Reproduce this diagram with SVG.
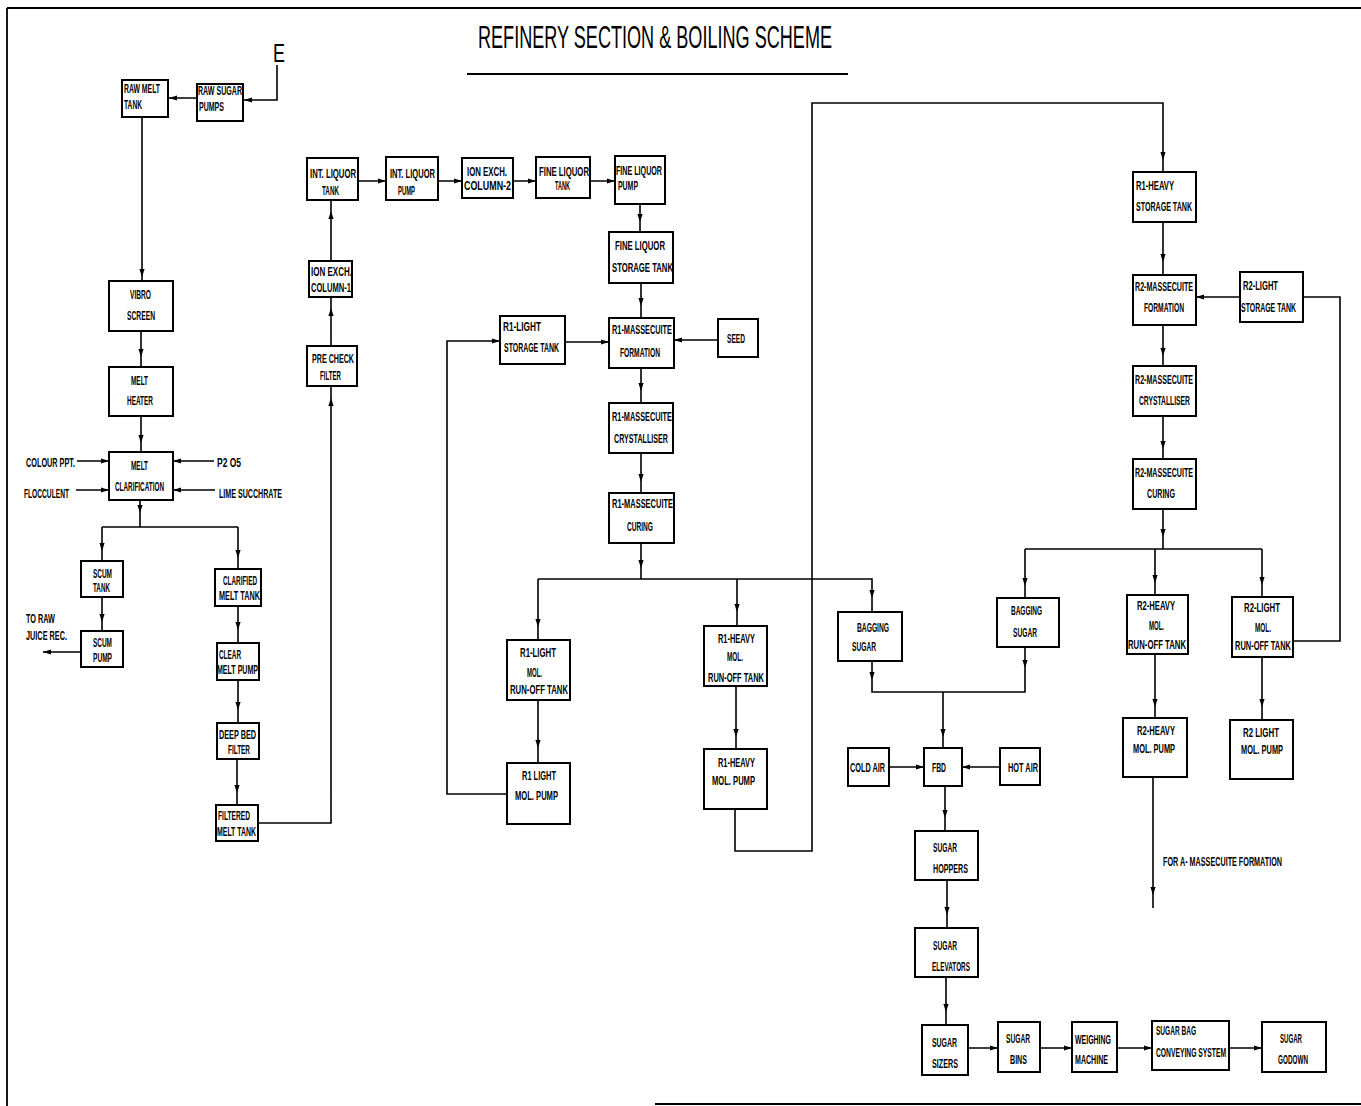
<svg xmlns="http://www.w3.org/2000/svg" xmlns:xlink="http://www.w3.org/1999/xlink" width="1361" height="1106" viewBox="0 0 1361 1106">
<style>
.b{fill:#fff;stroke:#000;stroke-width:2}
.t{font-family:"Liberation Sans",Arial,sans-serif;font-size:12.5px;font-weight:bold;fill:#000}
.c{fill:none;stroke:#000;stroke-width:1.6}
.f{stroke:#000;stroke-width:1.8}
</style>
<defs>
<path id="ad" d="M0,0 L-2.6,-8 L2.6,-8 Z" fill="#000"/>
<path id="au" d="M0,0 L-2.6,8 L2.6,8 Z" fill="#000"/>
<path id="ar" d="M0,0 L-8,-2.6 L-8,2.6 Z" fill="#000"/>
<path id="al" d="M0,0 L8,-2.6 L8,2.6 Z" fill="#000"/>
</defs>
<rect width="1361" height="1106" fill="#fff"/>
<g id="frame">
<path class="f" d="M7,8 H1361 M7,8 V1106 M655,1104 H1361 M467,74 H848" fill="none"/>
<text x="478" y="48" textLength="354" lengthAdjust="spacingAndGlyphs" style="font-family:'Liberation Sans',Arial,sans-serif;font-size:32px;fill:#000">REFINERY SECTION &amp; BOILING SCHEME</text>
<text x="273" y="62" style="font-family:'Liberation Sans',Arial,sans-serif;font-size:26px;fill:#000" textLength="12" lengthAdjust="spacingAndGlyphs">E</text>
</g>
<g id="connectors">
<path class="c" d="M277,65 V100 H244 M197,98 H168 M142,117 V281 M141,331 V367 M141,416 V452 M77,461 H109 M76,490 H109 M214,461 H173 M215,490 H173 M140,500 V527 M102,527 H238 M102,527 V561 M238,527 V569 M102,597 V631 M81,652 H43 M238,606 V643 M238,680 V723 M237,759 V805 M258,823 H331 V386 M331,346 V297 M331,261 V200 M358,181 H386 M438,181 H462 M513,181 H536 M590,181 H615 M640,204 V232 M641,283 V318 M565,342 H609 M718,340 H674 M641,368 V403 M641,453 V493 M641,543 V579 M538,579 H872 V612 M538,579 V640 M538,700 V763 M737,579 V626 M736,686 V749 M507,794 H447 V341 H500 M735,809 V851 H812 V103 H1163 V172 M1163,222 V275 M1240,297 H1196 M1303,297 H1340 V641 H1293 M1163,325 V366 M1163,416 V459 M1163,509 V549 M1025,549 H1262 M1025,549 V598 M1155,549 V595 M1262,549 V597 M1155,654 V718 M1262,657 V720 M1153,777 V908 M872,661 V692 H1025 V647 M943,692 V748 M889,767 H924 M1000,767 H962 M945,786 V831 M947,880 V928 M946,977 V1025 M968,1048 H998 M1040,1048 H1072 M1117,1048 H1152 M1229,1048 H1262"/>
<use xlink:href="#al" x="244" y="100"/>
<use xlink:href="#al" x="169" y="98"/>
<use xlink:href="#ad" x="142" y="277"/>
<use xlink:href="#ad" x="141" y="357"/>
<use xlink:href="#ad" x="141" y="443"/>
<use xlink:href="#ar" x="109" y="461"/>
<use xlink:href="#ar" x="109" y="490"/>
<use xlink:href="#al" x="173" y="461"/>
<use xlink:href="#al" x="173" y="490"/>
<use xlink:href="#ad" x="140" y="513"/>
<use xlink:href="#ad" x="102" y="551"/>
<use xlink:href="#ad" x="238" y="558"/>
<use xlink:href="#ad" x="102" y="622"/>
<use xlink:href="#al" x="43" y="652"/>
<use xlink:href="#ad" x="238" y="630"/>
<use xlink:href="#ad" x="238" y="710"/>
<use xlink:href="#ad" x="237" y="793"/>
<use xlink:href="#au" x="331" y="398"/>
<use xlink:href="#au" x="331" y="308"/>
<use xlink:href="#au" x="331" y="211"/>
<use xlink:href="#ar" x="386" y="181"/>
<use xlink:href="#ar" x="462" y="181"/>
<use xlink:href="#ar" x="536" y="181"/>
<use xlink:href="#ar" x="615" y="181"/>
<use xlink:href="#ad" x="640" y="222"/>
<use xlink:href="#ad" x="641" y="306"/>
<use xlink:href="#ar" x="609" y="342"/>
<use xlink:href="#al" x="674" y="340"/>
<use xlink:href="#ar" x="500" y="341"/>
<use xlink:href="#ad" x="641" y="391"/>
<use xlink:href="#ad" x="641" y="482"/>
<use xlink:href="#ad" x="641" y="568"/>
<use xlink:href="#ad" x="538" y="627"/>
<use xlink:href="#ad" x="538" y="748"/>
<use xlink:href="#ad" x="737" y="612"/>
<use xlink:href="#ad" x="736" y="737"/>
<use xlink:href="#ad" x="872" y="598"/>
<use xlink:href="#ad" x="1163" y="160"/>
<use xlink:href="#ad" x="1163" y="262"/>
<use xlink:href="#al" x="1196" y="297"/>
<use xlink:href="#ad" x="1163" y="356"/>
<use xlink:href="#ad" x="1163" y="449"/>
<use xlink:href="#ad" x="1163" y="537"/>
<use xlink:href="#ad" x="1025" y="586"/>
<use xlink:href="#ad" x="1155" y="583"/>
<use xlink:href="#ad" x="1262" y="585"/>
<use xlink:href="#ad" x="1155" y="707"/>
<use xlink:href="#ad" x="1262" y="707"/>
<use xlink:href="#ad" x="1153" y="895"/>
<use xlink:href="#ad" x="872" y="680"/>
<use xlink:href="#ad" x="1025" y="668"/>
<use xlink:href="#ad" x="943" y="737"/>
<use xlink:href="#ar" x="924" y="767"/>
<use xlink:href="#al" x="962" y="767"/>
<use xlink:href="#ad" x="945" y="818"/>
<use xlink:href="#ad" x="947" y="915"/>
<use xlink:href="#ad" x="946" y="1012"/>
<use xlink:href="#ar" x="998" y="1048"/>
<use xlink:href="#ar" x="1072" y="1048"/>
<use xlink:href="#ar" x="1152" y="1048"/>
<use xlink:href="#ar" x="1262" y="1048"/>
</g>
<g id="labels">
<text class="t" x="26" y="467" textLength="49" lengthAdjust="spacingAndGlyphs">COLOUR PPT.</text>
<text class="t" x="24" y="498" textLength="45" lengthAdjust="spacingAndGlyphs">FLOCCULENT</text>
<text class="t" x="217" y="467" textLength="24" lengthAdjust="spacingAndGlyphs">P2 O5</text>
<text class="t" x="219" y="498" textLength="63" lengthAdjust="spacingAndGlyphs">LIME SUCCHRATE</text>
<text class="t" x="26" y="623" textLength="29" lengthAdjust="spacingAndGlyphs">TO RAW</text>
<text class="t" x="26" y="640" textLength="41" lengthAdjust="spacingAndGlyphs">JUICE REC.</text>
<text class="t" x="1163" y="866" textLength="119" lengthAdjust="spacingAndGlyphs" style="font-size:12px">FOR A- MASSECUITE FORMATION</text>
</g>
<g id="raw-melt-tank"><rect class="b" x="122" y="80" width="46" height="37"/><text class="t" x="124" y="93" textLength="36" lengthAdjust="spacingAndGlyphs">RAW MELT</text><text class="t" x="124" y="109" textLength="18" lengthAdjust="spacingAndGlyphs">TANK</text></g>
<g id="raw-sugar-pumps"><rect class="b" x="197" y="84" width="46" height="37"/><text class="t" x="198" y="95" textLength="44" lengthAdjust="spacingAndGlyphs">RAW SUGAR</text><text class="t" x="199" y="111" textLength="25" lengthAdjust="spacingAndGlyphs">PUMPS</text></g>
<g id="vibro-screen"><rect class="b" x="109" y="281" width="64" height="50"/><text class="t" x="130" y="299" textLength="21" lengthAdjust="spacingAndGlyphs">VIBRO</text><text class="t" x="127" y="320" textLength="28" lengthAdjust="spacingAndGlyphs">SCREEN</text></g>
<g id="melt-heater"><rect class="b" x="109" y="367" width="64" height="49"/><text class="t" x="131" y="385" textLength="17" lengthAdjust="spacingAndGlyphs">MELT</text><text class="t" x="127" y="405" textLength="26" lengthAdjust="spacingAndGlyphs">HEATER</text></g>
<g id="melt-clarification"><rect class="b" x="109" y="452" width="64" height="48"/><text class="t" x="131" y="470" textLength="17" lengthAdjust="spacingAndGlyphs">MELT</text><text class="t" x="115" y="491" textLength="49" lengthAdjust="spacingAndGlyphs">CLARIFICATION</text></g>
<g id="scum-tank"><rect class="b" x="81" y="561" width="42" height="36"/><text class="t" x="93" y="578" textLength="19" lengthAdjust="spacingAndGlyphs">SCUM</text><text class="t" x="93" y="592" textLength="17" lengthAdjust="spacingAndGlyphs">TANK</text></g>
<g id="scum-pump"><rect class="b" x="81" y="631" width="42" height="36"/><text class="t" x="93" y="647" textLength="19" lengthAdjust="spacingAndGlyphs">SCUM</text><text class="t" x="93" y="662" textLength="19" lengthAdjust="spacingAndGlyphs">PUMP</text></g>
<g id="clarified-melt-tank"><rect class="b" x="215" y="569" width="46" height="37"/><text class="t" x="223" y="585" textLength="34" lengthAdjust="spacingAndGlyphs">CLARIFIED</text><text class="t" x="219" y="600" textLength="41" lengthAdjust="spacingAndGlyphs">MELT TANK</text></g>
<g id="clear-melt-pump"><rect class="b" x="217" y="643" width="42" height="37"/><text class="t" x="219" y="659" textLength="22" lengthAdjust="spacingAndGlyphs">CLEAR</text><text class="t" x="217" y="674" textLength="41" lengthAdjust="spacingAndGlyphs">MELT PUMP</text></g>
<g id="deep-bed-filter"><rect class="b" x="217" y="723" width="42" height="36"/><text class="t" x="219" y="739" textLength="37" lengthAdjust="spacingAndGlyphs">DEEP BED</text><text class="t" x="228" y="754" textLength="22" lengthAdjust="spacingAndGlyphs">FILTER</text></g>
<g id="filtered-melt-tank"><rect class="b" x="216" y="805" width="42" height="36"/><text class="t" x="218" y="820" textLength="32" lengthAdjust="spacingAndGlyphs">FILTERED</text><text class="t" x="217" y="836" textLength="39" lengthAdjust="spacingAndGlyphs">MELT TANK</text></g>
<g id="pre-check-filter"><rect class="b" x="307" y="346" width="50" height="40"/><text class="t" x="312" y="363" textLength="42" lengthAdjust="spacingAndGlyphs">PRE CHECK</text><text class="t" x="320" y="380" textLength="21" lengthAdjust="spacingAndGlyphs">FILTER</text></g>
<g id="ion-exch-column-1"><rect class="b" x="309" y="261" width="43" height="36"/><text class="t" x="311" y="276" textLength="41" lengthAdjust="spacingAndGlyphs">ION EXCH.</text><text class="t" x="311" y="292" textLength="40" lengthAdjust="spacingAndGlyphs">COLUMN-1</text></g>
<g id="int-liquor-tank"><rect class="b" x="307" y="158" width="51" height="42"/><text class="t" x="310" y="178" textLength="46" lengthAdjust="spacingAndGlyphs">INT. LIQUOR</text><text class="t" x="322" y="195" textLength="17" lengthAdjust="spacingAndGlyphs">TANK</text></g>
<g id="int-liquor-pump"><rect class="b" x="386" y="157" width="52" height="43"/><text class="t" x="390" y="178" textLength="45" lengthAdjust="spacingAndGlyphs">INT. LIQUOR</text><text class="t" x="398" y="195" textLength="17" lengthAdjust="spacingAndGlyphs">PUMP</text></g>
<g id="ion-exch-column-2"><rect class="b" x="462" y="158" width="51" height="40"/><text class="t" x="467" y="176" textLength="40" lengthAdjust="spacingAndGlyphs">ION EXCH.</text><text class="t" x="464" y="190" textLength="47" lengthAdjust="spacingAndGlyphs">COLUMN-2</text></g>
<g id="fine-liquor-tank"><rect class="b" x="536" y="157" width="54" height="41"/><text class="t" x="539" y="176" textLength="50" lengthAdjust="spacingAndGlyphs">FINE LIQUOR</text><text class="t" x="555" y="190" textLength="15" lengthAdjust="spacingAndGlyphs">TANK</text></g>
<g id="fine-liquor-pump"><rect class="b" x="615" y="156" width="50" height="48"/><text class="t" x="616" y="175" textLength="46" lengthAdjust="spacingAndGlyphs">FINE LIQUOR</text><text class="t" x="618" y="190" textLength="20" lengthAdjust="spacingAndGlyphs">PUMP</text></g>
<g id="fine-liquor-storage-tank"><rect class="b" x="609" y="232" width="64" height="51"/><text class="t" x="615" y="250" textLength="50" lengthAdjust="spacingAndGlyphs">FINE LIQUOR</text><text class="t" x="612" y="272" textLength="61" lengthAdjust="spacingAndGlyphs">STORAGE TANK</text></g>
<g id="r1-light-storage-tank"><rect class="b" x="500" y="316" width="65" height="48"/><text class="t" x="503" y="331" textLength="38" lengthAdjust="spacingAndGlyphs">R1-LIGHT</text><text class="t" x="504" y="352" textLength="55" lengthAdjust="spacingAndGlyphs">STORAGE TANK</text></g>
<g id="seed"><rect class="b" x="718" y="319" width="40" height="38"/><text class="t" x="727" y="343" textLength="18" lengthAdjust="spacingAndGlyphs">SEED</text></g>
<g id="r1-massecuite-formation"><rect class="b" x="609" y="318" width="65" height="50"/><text class="t" x="612" y="334" textLength="60" lengthAdjust="spacingAndGlyphs">R1-MASSECUITE</text><text class="t" x="620" y="357" textLength="40" lengthAdjust="spacingAndGlyphs">FORMATION</text></g>
<g id="r1-massecuite-crystalliser"><rect class="b" x="609" y="403" width="64" height="50"/><text class="t" x="612" y="421" textLength="60" lengthAdjust="spacingAndGlyphs">R1-MASSECUITE</text><text class="t" x="614" y="443" textLength="54" lengthAdjust="spacingAndGlyphs">CRYSTALLISER</text></g>
<g id="r1-massecuite-curing"><rect class="b" x="609" y="493" width="65" height="50"/><text class="t" x="612" y="508" textLength="61" lengthAdjust="spacingAndGlyphs">R1-MASSECUITE</text><text class="t" x="627" y="531" textLength="26" lengthAdjust="spacingAndGlyphs">CURING</text></g>
<g id="r1-light-mol-run-off-tank"><rect class="b" x="507" y="640" width="63" height="60"/><text class="t" x="520" y="657" textLength="36" lengthAdjust="spacingAndGlyphs">R1-LIGHT</text><text class="t" x="527" y="677" textLength="15" lengthAdjust="spacingAndGlyphs">MOL.</text><text class="t" x="510" y="694" textLength="58" lengthAdjust="spacingAndGlyphs">RUN-OFF TANK</text></g>
<g id="r1-light-mol-pump"><rect class="b" x="507" y="763" width="63" height="61"/><text class="t" x="522" y="780" textLength="34" lengthAdjust="spacingAndGlyphs">R1 LIGHT</text><text class="t" x="515" y="800" textLength="43" lengthAdjust="spacingAndGlyphs">MOL. PUMP</text></g>
<g id="r1-heavy-mol-run-off-tank"><rect class="b" x="704" y="626" width="63" height="60"/><text class="t" x="718" y="643" textLength="37" lengthAdjust="spacingAndGlyphs">R1-HEAVY</text><text class="t" x="727" y="661" textLength="16" lengthAdjust="spacingAndGlyphs">MOL.</text><text class="t" x="708" y="682" textLength="56" lengthAdjust="spacingAndGlyphs">RUN-OFF TANK</text></g>
<g id="r1-heavy-mol-pump"><rect class="b" x="704" y="749" width="63" height="60"/><text class="t" x="718" y="767" textLength="37" lengthAdjust="spacingAndGlyphs">R1-HEAVY</text><text class="t" x="712" y="785" textLength="43" lengthAdjust="spacingAndGlyphs">MOL. PUMP</text></g>
<g id="r1-heavy-storage-tank"><rect class="b" x="1133" y="172" width="63" height="50"/><text class="t" x="1136" y="190" textLength="38" lengthAdjust="spacingAndGlyphs">R1-HEAVY</text><text class="t" x="1136" y="211" textLength="56" lengthAdjust="spacingAndGlyphs">STORAGE TANK</text></g>
<g id="r2-massecuite-formation"><rect class="b" x="1133" y="275" width="63" height="50"/><text class="t" x="1135" y="291" textLength="58" lengthAdjust="spacingAndGlyphs">R2-MASSECUITE</text><text class="t" x="1144" y="312" textLength="40" lengthAdjust="spacingAndGlyphs">FORMATION</text></g>
<g id="r2-light-storage-tank"><rect class="b" x="1240" y="272" width="63" height="50"/><text class="t" x="1243" y="290" textLength="35" lengthAdjust="spacingAndGlyphs">R2-LIGHT</text><text class="t" x="1241" y="312" textLength="55" lengthAdjust="spacingAndGlyphs">STORAGE TANK</text></g>
<g id="r2-massecuite-crystalliser"><rect class="b" x="1133" y="366" width="63" height="50"/><text class="t" x="1135" y="384" textLength="58" lengthAdjust="spacingAndGlyphs">R2-MASSECUITE</text><text class="t" x="1139" y="405" textLength="51" lengthAdjust="spacingAndGlyphs">CRYSTALLISER</text></g>
<g id="r2-massecuite-curing"><rect class="b" x="1133" y="459" width="63" height="50"/><text class="t" x="1135" y="477" textLength="58" lengthAdjust="spacingAndGlyphs">R2-MASSECUITE</text><text class="t" x="1147" y="498" textLength="28" lengthAdjust="spacingAndGlyphs">CURING</text></g>
<g id="bagging-sugar-2"><rect class="b" x="997" y="598" width="62" height="49"/><text class="t" x="1011" y="615" textLength="31" lengthAdjust="spacingAndGlyphs">BAGGING</text><text class="t" x="1013" y="637" textLength="24" lengthAdjust="spacingAndGlyphs">SUGAR</text></g>
<g id="r2-heavy-mol-run-off-tank"><rect class="b" x="1127" y="595" width="61" height="59"/><text class="t" x="1137" y="610" textLength="38" lengthAdjust="spacingAndGlyphs">R2-HEAVY</text><text class="t" x="1149" y="630" textLength="15" lengthAdjust="spacingAndGlyphs">MOL.</text><text class="t" x="1128" y="649" textLength="58" lengthAdjust="spacingAndGlyphs">RUN-OFF TANK</text></g>
<g id="r2-light-mol-run-off-tank"><rect class="b" x="1232" y="597" width="61" height="60"/><text class="t" x="1244" y="612" textLength="36" lengthAdjust="spacingAndGlyphs">R2-LIGHT</text><text class="t" x="1255" y="632" textLength="16" lengthAdjust="spacingAndGlyphs">MOL.</text><text class="t" x="1235" y="650" textLength="56" lengthAdjust="spacingAndGlyphs">RUN-OFF TANK</text></g>
<g id="r2-heavy-mol-pump"><rect class="b" x="1123" y="718" width="64" height="59"/><text class="t" x="1137" y="735" textLength="38" lengthAdjust="spacingAndGlyphs">R2-HEAVY</text><text class="t" x="1133" y="753" textLength="42" lengthAdjust="spacingAndGlyphs">MOL. PUMP</text></g>
<g id="r2-light-mol-pump"><rect class="b" x="1230" y="720" width="63" height="59"/><text class="t" x="1243" y="737" textLength="36" lengthAdjust="spacingAndGlyphs">R2 LIGHT</text><text class="t" x="1241" y="754" textLength="42" lengthAdjust="spacingAndGlyphs">MOL. PUMP</text></g>
<g id="bagging-sugar-1"><rect class="b" x="838" y="612" width="64" height="49"/><text class="t" x="857" y="632" textLength="32" lengthAdjust="spacingAndGlyphs">BAGGING</text><text class="t" x="852" y="651" textLength="24" lengthAdjust="spacingAndGlyphs">SUGAR</text></g>
<g id="cold-air"><rect class="b" x="848" y="748" width="41" height="38"/><text class="t" x="850" y="772" textLength="35" lengthAdjust="spacingAndGlyphs">COLD AIR</text></g>
<g id="fbd"><rect class="b" x="924" y="748" width="38" height="38"/><text class="t" x="932" y="772" textLength="14" lengthAdjust="spacingAndGlyphs">FBD</text></g>
<g id="hot-air"><rect class="b" x="1000" y="748" width="40" height="37"/><text class="t" x="1008" y="772" textLength="30" lengthAdjust="spacingAndGlyphs">HOT AIR</text></g>
<g id="sugar-hoppers"><rect class="b" x="915" y="831" width="63" height="49"/><text class="t" x="933" y="852" textLength="24" lengthAdjust="spacingAndGlyphs">SUGAR</text><text class="t" x="933" y="873" textLength="35" lengthAdjust="spacingAndGlyphs">HOPPERS</text></g>
<g id="sugar-elevators"><rect class="b" x="915" y="928" width="63" height="49"/><text class="t" x="933" y="950" textLength="24" lengthAdjust="spacingAndGlyphs">SUGAR</text><text class="t" x="932" y="971" textLength="38" lengthAdjust="spacingAndGlyphs">ELEVATORS</text></g>
<g id="sugar-sizers"><rect class="b" x="922" y="1025" width="46" height="50"/><text class="t" x="932" y="1047" textLength="25" lengthAdjust="spacingAndGlyphs">SUGAR</text><text class="t" x="932" y="1068" textLength="26" lengthAdjust="spacingAndGlyphs">SIZERS</text></g>
<g id="sugar-bins"><rect class="b" x="998" y="1022" width="42" height="50"/><text class="t" x="1006" y="1043" textLength="24" lengthAdjust="spacingAndGlyphs">SUGAR</text><text class="t" x="1010" y="1064" textLength="17" lengthAdjust="spacingAndGlyphs">BINS</text></g>
<g id="weighing-machine"><rect class="b" x="1072" y="1022" width="45" height="50"/><text class="t" x="1075" y="1044" textLength="36" lengthAdjust="spacingAndGlyphs">WEIGHING</text><text class="t" x="1075" y="1064" textLength="33" lengthAdjust="spacingAndGlyphs">MACHINE</text></g>
<g id="sugar-bag-conveying-system"><rect class="b" x="1152" y="1021" width="77" height="49"/><text class="t" x="1156" y="1035" textLength="40" lengthAdjust="spacingAndGlyphs">SUGAR BAG</text><text class="t" x="1156" y="1057" textLength="70" lengthAdjust="spacingAndGlyphs">CONVEYING SYSTEM</text></g>
<g id="sugar-godown"><rect class="b" x="1262" y="1022" width="64" height="50"/><text class="t" x="1280" y="1043" textLength="22" lengthAdjust="spacingAndGlyphs">SUGAR</text><text class="t" x="1278" y="1064" textLength="30" lengthAdjust="spacingAndGlyphs">GODOWN</text></g>
</svg>
